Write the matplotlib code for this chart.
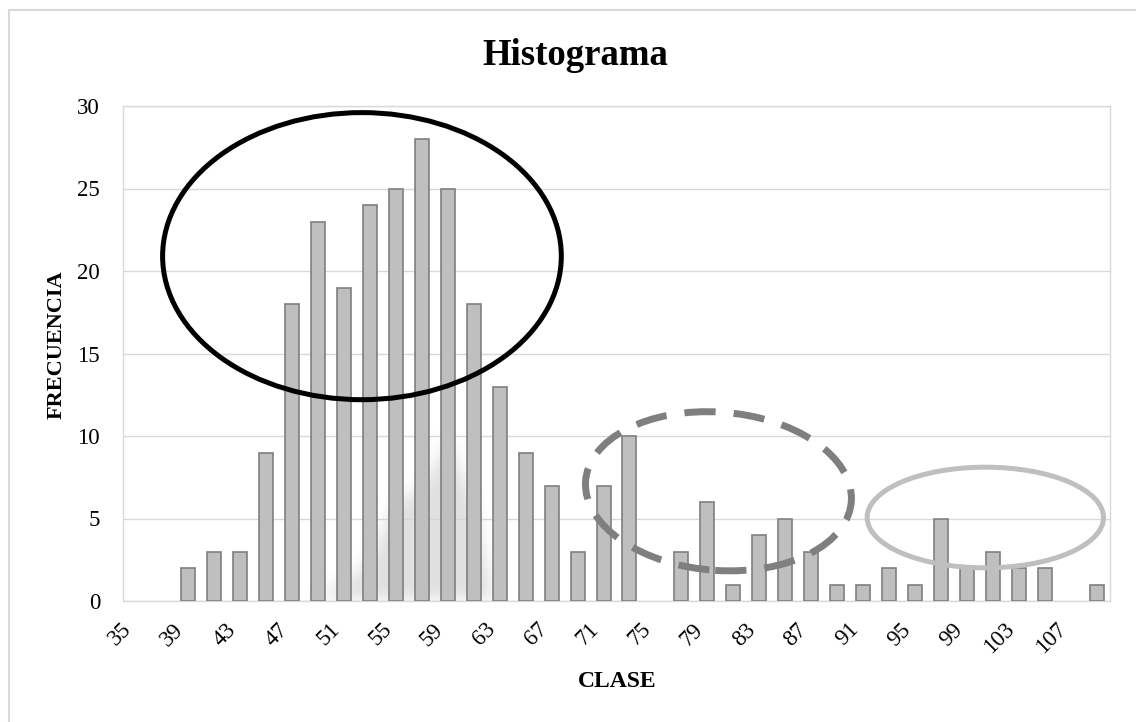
import matplotlib
matplotlib.use("Agg")
import numpy as np
import matplotlib.pyplot as plt
from matplotlib.patches import Ellipse, Rectangle

# Class marks and their frequencies
clases = list(range(35, 111, 2))
frecuencias = [0, 0, 2, 3, 3, 9, 18, 23, 19, 24, 25, 28, 25, 18, 13, 9, 7, 3,
               7, 10, 0, 3, 6, 1, 4, 5, 3, 1, 1, 2, 1, 5, 2, 3, 2, 2, 0, 1]
etiquetas_x = [str(c) for c in clases[::2]]
ticks_y = [0, 5, 10, 15, 20, 25, 30]

plt.rcParams["font.family"] = ["Liberation Serif", "DejaVu Serif"]

W, H = 1136, 722
fig = plt.figure(figsize=(W / 100, H / 100), dpi=100)
ax = fig.add_axes([123 / W, 1 - 601 / H, (1110 - 123) / W, (601 - 106) / H])

grid_c = "#d9d9d9"
edge_cols = ["#7f7f7f" if f > 0 else "none" for f in frecuencias]
ax.bar(clases, frecuencias, width=1.08, color="#bfbfbf", edgecolor=edge_cols,
       linewidth=1.2, zorder=3)

# Faint soft shadow behind the central bars
gx = np.linspace(48, 64, 320)
gy = np.linspace(0, 12, 240)
GX, GY = np.meshgrid(gx, gy)
ridge_x = [48, 51, 53, 55, 57, 59, 61, 62.5, 64]
ridge_h = [0, 1.0, 2.5, 6.0, 6.8, 9.6, 6.0, 0, 0]
top = np.interp(gx, ridge_x, ridge_h)
mask = (GY <= top[None, :]).astype(float)
k = np.ones(25) / 25
for _ in range(2):
    mask = np.apply_along_axis(lambda r: np.convolve(r, k, mode="same"), 1, mask)
    mask = np.apply_along_axis(lambda c: np.convolve(c, k, mode="same"), 0, mask)
rgba = np.zeros(mask.shape + (4,))
rgba[..., :3] = 0.84
rgba[..., 3] = np.clip(mask, 0, 1) * 0.75
ax.imshow(rgba, extent=(48, 64, 0, 12), origin="lower", aspect="auto",
          interpolation="bilinear", zorder=1)

ax.set_xlim(34, 110)
ax.set_ylim(0, 30)
ax.set_yticks(ticks_y)
ax.set_xticks(clases[::2])
ax.set_xticklabels(etiquetas_x, rotation=45, ha="right", va="top")
ax.tick_params(axis="both", length=0, labelsize=16.5)
ax.tick_params(axis="y", pad=16.5)
ax.tick_params(axis="x", pad=13)
ax.yaxis.grid(True, color=grid_c, linewidth=1.0, zorder=0)
ax.set_axisbelow(True)
for s in ax.spines.values():
    s.set_color(grid_c)
    s.set_linewidth(1.0)

# Highlighted groups
ax.add_patch(Ellipse((52.4, 20.9), 30.7, 17.4, fill=False, edgecolor="black",
                     linewidth=3.6, zorder=5))
ax.add_patch(Ellipse((79.85, 6.65), 20.5, 9.6, angle=-3, fill=False,
                     edgecolor="#7f7f7f", linewidth=5.0,
                     linestyle=(0, (4.5, 2.6)), zorder=5))
ax.add_patch(Ellipse((100.4, 5.06), 18.2, 6.1, fill=False, edgecolor="#bfbfbf",
                     linewidth=3.6, zorder=5))

# Titles
fig.text(575 / W, 1 - 65 / H, "Histograma", ha="center", va="baseline",
         fontsize=26.5, fontweight="bold")
fig.text(617 / W, 1 - 687 / H, "CLASE", ha="center", va="baseline",
         fontsize=17, fontweight="bold")
fig.text(57 / W, 1 - 345 / H, "FRECUENCIA", ha="center", va="center",
         rotation=90, fontsize=16, fontweight="bold")

# Chart frame
fig.patches.append(Rectangle((9 / W, -0.05), 1.2, 1 - 10 / H + 0.05,
                             transform=fig.transFigure, fill=False,
                             edgecolor=grid_c, linewidth=1.5))

fig.savefig("out.png", dpi=100)
